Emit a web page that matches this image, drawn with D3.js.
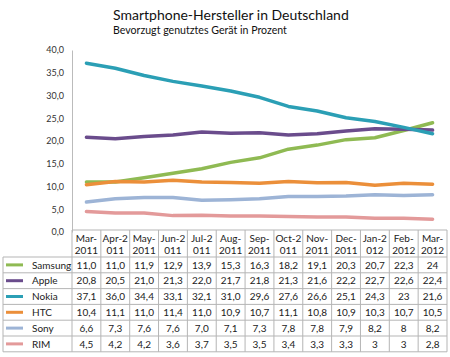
<!DOCTYPE html>
<html><head><meta charset="utf-8">
<script src="https://cdn.jsdelivr.net/npm/d3@7"></script>
<style>body{margin:0;background:#fff;}svg{display:block;font-family:Lato,"Open Sans",sans-serif;}</style>
</head><body><svg id="c" width="450" height="357"></svg>
<script>
const months = ["Mar-2011","Apr-2011","May-2011","Jun-2011","Jul-2011","Aug-2011","Sep-2011","Oct-2011","Nov-2011","Dec-2011","Jan-2012","Feb-2012","Mar-2012"];
const headerLine1 = ["Mar-","Apr-2","May-","Jun-2","Jul-2","Aug-","Sep-","Oct-2","Nov-","Dec-","Jan-2","Feb-","Mar-"];
const headerLine2 = ["2011","011","2011","011","011","2011","2011","011","2011","2011","012","2012","2012"];
const seriesNames = ["Samsung","Apple","Nokia","HTC","Sony","RIM"];
const samsung = [11.0,11.0,11.9,12.9,13.9,15.3,16.3,18.2,19.1,20.3,20.7,22.3,24];
const apple   = [20.8,20.5,21.0,21.3,22.0,21.7,21.8,21.3,21.6,22.2,22.7,22.6,22.4];
const nokia   = [37.1,36.0,34.4,33.1,32.1,31.0,29.6,27.6,26.6,25.1,24.3,23,21.6];
const htc     = [10.4,11.1,11.0,11.4,11.0,10.9,10.7,11.1,10.8,10.9,10.3,10.7,10.5];
const sony    = [6.6,7.3,7.6,7.6,7.0,7.1,7.3,7.8,7.8,7.9,8.2,8,8.2];
const rim     = [4.5,4.2,4.2,3.6,3.7,3.5,3.5,3.4,3.3,3.3,3,3,2.8];
const labelText = [
  ["11,0","11,0","11,9","12,9","13,9","15,3","16,3","18,2","19,1","20,3","20,7","22,3","24"],
  ["20,8","20,5","21,0","21,3","22,0","21,7","21,8","21,3","21,6","22,2","22,7","22,6","22,4"],
  ["37,1","36,0","34,4","33,1","32,1","31,0","29,6","27,6","26,6","25,1","24,3","23","21,6"],
  ["10,4","11,1","11,0","11,4","11,0","10,9","10,7","11,1","10,8","10,9","10,3","10,7","10,5"],
  ["6,6","7,3","7,6","7,6","7,0","7,1","7,3","7,8","7,8","7,9","8,2","8","8,2"],
  ["4,5","4,2","4,2","3,6","3,7","3,5","3,5","3,4","3,3","3,3","3","3","2,8"]
];
const yTicks = [0,5,10,15,20,25,30,35,40];
const colors = ["#8fba53","#6a4c8c","#2b9fb5","#eb8f3a","#9db4d6","#e39a9a"];
const seriesValues = [samsung, apple, nokia, htc, sony, rim];

const svg = d3.select("#c");
const pLeft = 72, pRight = 447, pTop = 50, pBottom = 232;
const x = d3.scaleBand().domain(months).range([pLeft, pRight]);
const y = d3.scaleLinear().domain([0, 40]).range([pBottom, pTop]);

svg.append("text").attr("x", 113).attr("y", 20).attr("font-size", 14)
  .attr("fill", "#111").text("Smartphone-Hersteller in Deutschland");
svg.append("text").attr("x", 113).attr("y", 33.5).attr("font-size", 10.6)
  .attr("fill", "#111").text("Bevorzugt genutztes Gerät in Prozent");

// y axis
const yAxis = d3.axisLeft(y).tickValues(yTicks).tickSize(0).tickPadding(8)
  .tickFormat(d => d3.format(".1f")(d).replace(".", ","));
const ga = svg.append("g").attr("transform", `translate(${pLeft},0)`).call(yAxis);
ga.select(".domain").attr("stroke", "#bbb");
ga.selectAll("text").attr("font-size", 9).attr("fill", "#333").attr("font-family", "Lato,sans-serif");

// lines
const line = d3.line().x((d, i) => x(months[i]) + x.bandwidth() / 2).y(d => y(d));
seriesValues.forEach((vals, k) => {
  svg.append("path").datum(vals).attr("d", line).attr("fill", "none")
    .attr("stroke", colors[k]).attr("stroke-width", 3.5).attr("stroke-linejoin", "round").attr("stroke-linecap", "round");
});

// table
const rowTop = 230, headH = 27, rowH = 15.8, legendLeft = 3;
const tb = svg.append("g");
const tableBottom = rowTop + headH + rowH * seriesNames.length;
const bc = "#b5b5b5";
months.forEach((m, i) => {
  tb.append("line").attr("x1", x(m)).attr("x2", x(m)).attr("y1", rowTop).attr("y2", tableBottom).attr("stroke", bc);
});
tb.append("line").attr("x1", pRight).attr("x2", pRight).attr("y1", rowTop).attr("y2", tableBottom).attr("stroke", bc);
tb.append("line").attr("x1", legendLeft).attr("x2", legendLeft).attr("y1", rowTop + headH).attr("y2", tableBottom).attr("stroke", bc);
tb.append("line").attr("x1", pLeft).attr("x2", pRight).attr("y1", rowTop).attr("y2", rowTop).attr("stroke", bc);
for (let r = 0; r <= seriesNames.length; r++) {
  const yy = rowTop + headH + r * rowH;
  tb.append("line").attr("x1", legendLeft).attr("x2", pRight).attr("y1", yy).attr("y2", yy).attr("stroke", bc);
}
const fs = 10;
months.forEach((m, i) => {
  const cx = x(m) + x.bandwidth() / 2;
  tb.append("text").attr("x", cx).attr("y", rowTop + 12).attr("text-anchor", "middle").attr("font-size", fs).attr("fill", "#222").text(headerLine1[i]);
  tb.append("text").attr("x", cx).attr("y", rowTop + 24).attr("text-anchor", "middle").attr("font-size", fs).attr("fill", "#222").text(headerLine2[i]);
});
seriesNames.forEach((s, r) => {
  const yy = rowTop + headH + r * rowH;
  tb.append("line").attr("x1", 6).attr("x2", 23).attr("y1", yy + rowH / 2).attr("y2", yy + rowH / 2).attr("stroke", colors[r]).attr("stroke-width", 3);
  tb.append("text").attr("x", 32).attr("y", yy + 11.5).attr("font-size", fs).attr("fill", "#222").text(s);
  labelText[r].forEach((t, i) => {
    tb.append("text").attr("x", x(months[i]) + x.bandwidth() / 2).attr("y", yy + 11.5).attr("text-anchor", "middle").attr("font-size", fs).attr("fill", "#222").text(t);
  });
});
</script></body></html>
